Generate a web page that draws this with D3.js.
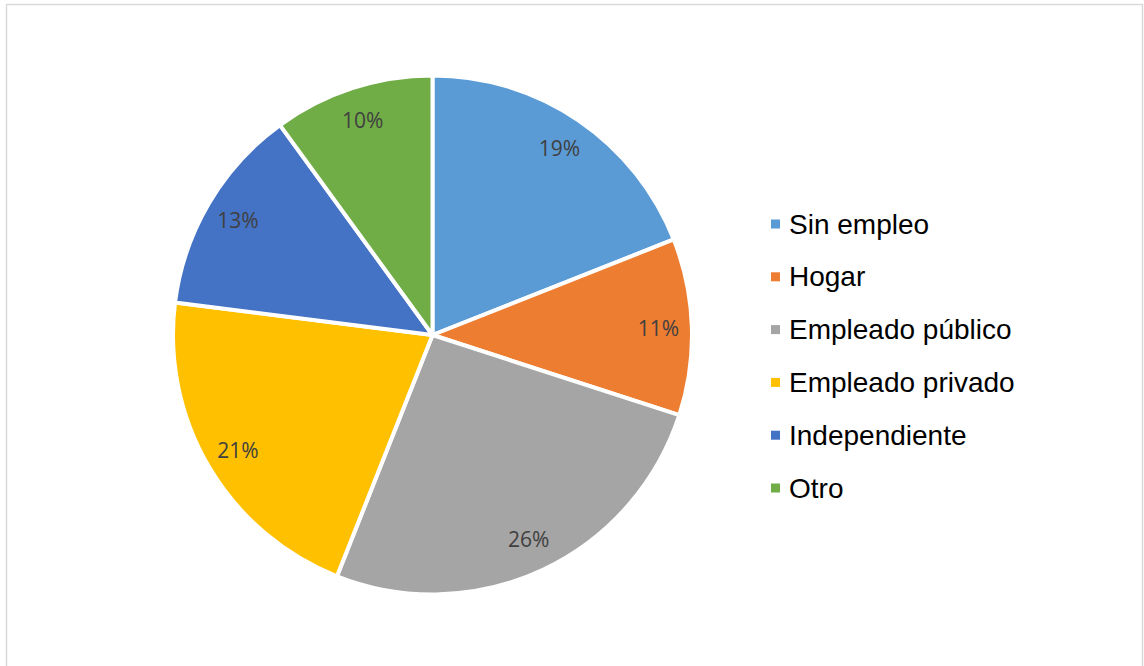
<!DOCTYPE html>
<html>
<head>
<meta charset="utf-8">
<script src="https://cdn.jsdelivr.net/npm/d3@7"></script>
<style>
  html, body { margin: 0; padding: 0; background: #fff; }
  svg { display: block; }
</style>
</head>
<body>
<svg id="chart" width="1144" height="666"></svg>
<script>
// Occupation shares (percent)
const categories = ["Sin empleo", "Hogar", "Empleado público", "Empleado privado", "Independiente", "Otro"];
const values = [19, 11, 26, 21, 13, 10];
const colors = ["#5B9BD5", "#ED7D31", "#A5A5A5", "#FFC000", "#4472C4", "#70AD47"];

const svg = d3.select("#chart");

// Chart frame
svg.append("rect")
  .attr("x", 6.5).attr("y", 4.5)
  .attr("width", 1136).attr("height", 700)
  .attr("fill", "#fff")
  .attr("stroke", "#D9D9D9")
  .attr("stroke-width", 1.5);

const cx = 432.5, cy = 335, r = 259.5;

const pie = d3.pie().sort(null).value(d => d.value);
const arcs = pie(categories.map((c, i) => ({ name: c, value: values[i], color: colors[i] })));

const arc = d3.arc().innerRadius(0).outerRadius(r);
const labelArc = d3.arc().innerRadius(226).outerRadius(226);

const g = svg.append("g").attr("transform", `translate(${cx},${cy})`);

g.selectAll("path.slice")
  .data(arcs)
  .join("path")
  .attr("class", "slice")
  .attr("d", arc)
  .attr("fill", d => d.data.color)
  .attr("stroke", "#fff")
  .attr("stroke-width", 4)
  .attr("stroke-linejoin", "round");

g.selectAll("text.pct")
  .data(arcs)
  .join("text")
  .attr("class", "pct")
  .attr("transform", d => `translate(${labelArc.centroid(d)})`)
  .attr("text-anchor", "middle")
  .attr("dominant-baseline", "central")
  .attr("font-family", "'Open Sans', sans-serif")
  .attr("font-size", 21)
  .attr("fill", "#404040")
  .text(d => d.data.value + "%");

// Legend
const legend = svg.append("g").attr("transform", "translate(771,0)");
const rowY = d3.scalePoint().domain(categories).range([224, 488]);

const item = legend.selectAll("g.item")
  .data(arcs)
  .join("g")
  .attr("class", "item")
  .attr("transform", d => `translate(0,${rowY(d.data.name)})`);

item.append("rect")
  .attr("x", 0).attr("y", -4.5)
  .attr("width", 9).attr("height", 9)
  .attr("fill", d => d.data.color);

item.append("text")
  .attr("x", 18)
  .attr("y", 9.5)
  .attr("font-family", "'Liberation Sans', Arial, sans-serif")
  .attr("font-size", 28)
  .attr("fill", "#000")
  .text(d => d.data.name);
</script>
</body>
</html>
